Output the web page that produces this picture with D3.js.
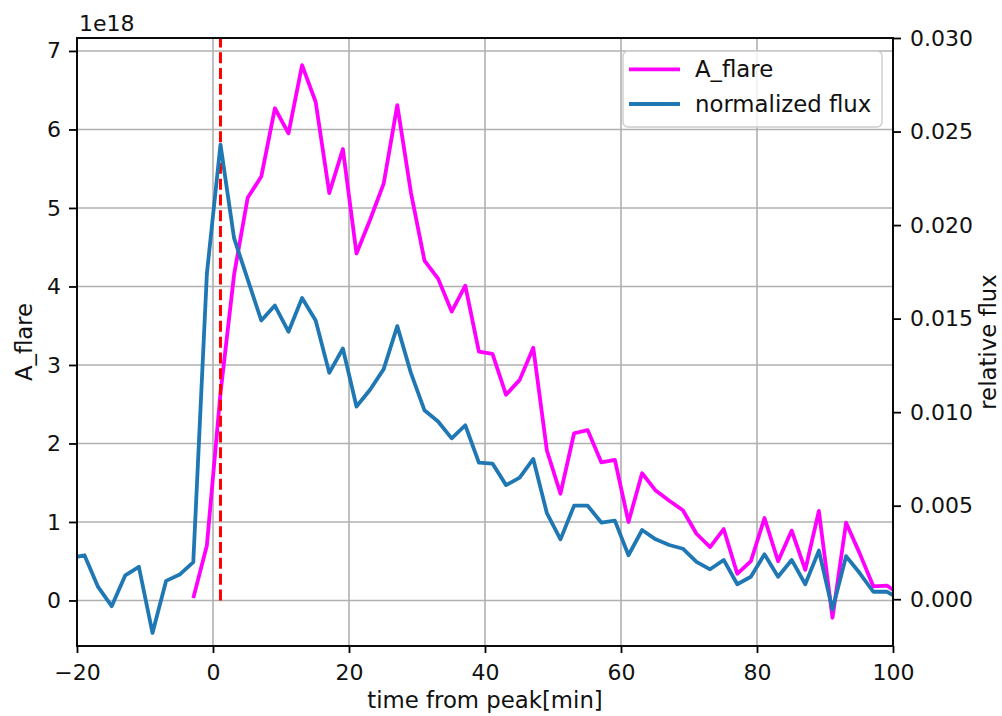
<!DOCTYPE html>
<html>
<head>
<meta charset="utf-8">
<script src="https://cdn.jsdelivr.net/npm/d3@7/dist/d3.min.js"></script>
<style>
  html, body { margin: 0; padding: 0; background: #fff; }
  svg { display: block; }
  text { font-family: "DejaVu Sans", sans-serif; fill: #111; }
</style>
</head>
<body>
<svg id="chart" width="1002" height="716"></svg>
<script>
// Sample times in minutes relative to the flare peak (2-minute cadence)
const timeMin = [
  -20.9, -18.9, -16.9, -14.9, -12.9, -10.9, -8.9, -6.9, -4.9, -2.9,
  -0.9, 1.1, 3.1, 5.1, 7.1, 9.1, 11.1, 13.1, 15.1, 17.1,
  19.1, 21.1, 23.1, 25.1, 27.1, 29.1, 31.1, 33.1, 35.1, 37.1,
  39.1, 41.1, 43.1, 45.1, 47.1, 49.1, 51.1, 53.1, 55.1, 57.1,
  59.1, 61.1, 63.1, 65.1, 67.1, 69.1, 71.1, 73.1, 75.1, 77.1,
  79.1, 81.1, 83.1, 85.1, 87.1, 89.1, 91.1, 93.1, 95.1, 97.1,
  99.1, 101.1
];

// Normalized flux (relative units), one value per entry of timeMin
const normFlux = [
  0.0022, 0.00235, 0.00066, -0.00037, 0.00128, 0.00173, -0.0018, 0.00098, 0.00132, 0.00198,
  0.0174, 0.0243, 0.0193, 0.0171, 0.0149, 0.0157, 0.0143, 0.0161, 0.0149, 0.0121,
  0.0134, 0.0103, 0.0112, 0.0123, 0.0146, 0.0121, 0.0101, 0.0095, 0.0086, 0.0093,
  0.0073, 0.00725, 0.0061, 0.0065, 0.0075, 0.0046, 0.0032, 0.0050, 0.0050, 0.0041,
  0.0042, 0.00235, 0.0037, 0.0032, 0.0029, 0.0027, 0.0020, 0.0016, 0.0021, 0.0008,
  0.0012, 0.0024, 0.0012, 0.0021, 0.0008, 0.0026, -0.00055, 0.0023, 0.0014, 0.0004,
  0.0004, 0.0000
];

// Flare area A_flare in units of 1e18, starting at t = -2.9 min
const flareTime = [
  -2.9, -0.9, 1.1, 3.1, 5.1, 7.1, 9.1, 11.1, 13.1, 15.1,
  17.1, 19.1, 21.1, 23.1, 25.1, 27.1, 29.1, 31.1, 33.1, 35.1,
  37.1, 39.1, 41.1, 43.1, 45.1, 47.1, 49.1, 51.1, 53.1, 55.1,
  57.1, 59.1, 61.1, 63.1, 65.1, 67.1, 69.1, 71.1, 73.1, 75.1,
  77.1, 79.1, 81.1, 83.1, 85.1, 87.1, 89.1, 91.1, 93.1, 95.1,
  97.1, 99.1, 101.1
];
const aFlare = [
  0.03, 0.70, 2.64, 4.15, 5.13, 5.40, 6.27, 5.95, 6.82, 6.35,
  5.19, 5.75, 4.42, 4.85, 5.31, 6.31, 5.20, 4.33, 4.10, 3.68,
  4.01, 3.17, 3.14, 2.62, 2.81, 3.22, 1.91, 1.36, 2.13, 2.17,
  1.76, 1.79, 1.00, 1.62, 1.40, 1.27, 1.15, 0.85, 0.68, 0.91,
  0.34, 0.50, 1.05, 0.50, 0.89, 0.39, 1.14, -0.22, 0.99, 0.60,
  0.18, 0.19, 0.07
];

// Time of the flux peak, marked with a dashed line
const peakTime = [1.1];

// Tick labels
const xTicks = [-20, 0, 20, 40, 60, 80, 100];
const leftTicks = [0, 1, 2, 3, 4, 5, 6, 7];
const rightTicks = [0.000, 0.005, 0.010, 0.015, 0.020, 0.025, 0.030];

const seriesNames = ["A_flare", "normalized flux"];
const seriesColors = ["#ff00ff", "#1f77b4"];

const plot = { left: 77, right: 893, top: 38, bottom: 646 };
const tickPx = 22;
const labelPx = 22.8;
const lineW = 3.8;

const svg = d3.select("#chart");

const x = d3.scaleLinear().domain([-20, 100]).range([plot.left, plot.right]);
const yL = d3.scaleLinear().domain([-0.58, 7.165]).range([plot.bottom, plot.top]);
const yR = d3.scaleLinear().domain([-0.0025, 0.030]).range([plot.bottom, plot.top]);

svg.append("defs").append("clipPath").attr("id", "plotClip")
  .append("rect")
  .attr("x", plot.left).attr("y", plot.top)
  .attr("width", plot.right - plot.left).attr("height", plot.bottom - plot.top);

// Grid
const grid = svg.append("g").attr("stroke", "#b0b0b0").attr("stroke-width", 1.6);
grid.selectAll("line.gx").data(xTicks).join("line")
  .attr("x1", d => x(d)).attr("x2", d => x(d))
  .attr("y1", plot.top).attr("y2", plot.bottom);
grid.selectAll("line.gy").data(leftTicks).join("line")
  .attr("x1", plot.left).attr("x2", plot.right)
  .attr("y1", d => yL(d)).attr("y2", d => yL(d));

const clipped = svg.append("g").attr("clip-path", "url(#plotClip)");

// A_flare curve (left axis)
const flarePts = flareTime.map((t, i) => [t, aFlare[i]]);
clipped.append("path")
  .datum(flarePts)
  .attr("fill", "none")
  .attr("stroke", seriesColors[0])
  .attr("stroke-width", lineW)
  .attr("stroke-linejoin", "round")
  .attr("d", d3.line().x(d => x(d[0])).y(d => yL(d[1])));

// Peak marker
clipped.selectAll("line.peak").data(peakTime).join("line")
  .attr("x1", d => x(d)).attr("x2", d => x(d))
  .attr("y1", yL(0)).attr("y2", plot.top)
  .attr("stroke", "#ff0000")
  .attr("stroke-width", 3)
  .attr("stroke-dasharray", "11,4.8");

// Normalized flux curve (right axis)
const fluxPts = timeMin.map((t, i) => [t, normFlux[i]]);
clipped.append("path")
  .datum(fluxPts)
  .attr("fill", "none")
  .attr("stroke", seriesColors[1])
  .attr("stroke-width", lineW)
  .attr("stroke-linejoin", "round")
  .attr("d", d3.line().x(d => x(d[0])).y(d => yR(d[1])));

// Axes
function styleAxis(g) {
  g.select(".domain").remove();
  g.selectAll(".tick line").attr("stroke", "#000").attr("stroke-width", 1.8);
  g.selectAll(".tick text").attr("font-size", tickPx).attr("fill", "#111")
    .attr("font-family", "DejaVu Sans, sans-serif");
}

svg.append("g")
  .attr("transform", `translate(0,${plot.bottom})`)
  .call(d3.axisBottom(x).tickValues(xTicks).tickSize(7).tickPadding(11)
    .tickFormat(d3.format("d")))
  .call(styleAxis);

svg.append("g")
  .attr("transform", `translate(${plot.left},0)`)
  .call(d3.axisLeft(yL).tickValues(leftTicks).tickSize(8).tickPadding(8)
    .tickFormat(d3.format("d")))
  .call(styleAxis);

svg.append("g")
  .attr("transform", `translate(${plot.right},0)`)
  .call(d3.axisRight(yR).tickValues(rightTicks).tickSize(8).tickPadding(9)
    .tickFormat(d3.format(".3f")))
  .call(styleAxis);

// Frame
svg.append("rect")
  .attr("x", plot.left).attr("y", plot.top)
  .attr("width", plot.right - plot.left).attr("height", plot.bottom - plot.top)
  .attr("fill", "none").attr("stroke", "#000").attr("stroke-width", 1.9);

// Axis labels
svg.append("text")
  .attr("x", (plot.left + plot.right) / 2).attr("y", 708)
  .attr("text-anchor", "middle").attr("font-size", labelPx)
  .text("time from peak[min]");

svg.append("text")
  .attr("transform", `translate(32,${(plot.top + plot.bottom) / 2}) rotate(-90)`)
  .attr("text-anchor", "middle").attr("font-size", labelPx)
  .text("A_flare");

svg.append("text")
  .attr("transform", `translate(995.5,${(plot.top + plot.bottom) / 2}) rotate(-90)`)
  .attr("text-anchor", "middle").attr("font-size", labelPx)
  .text("relative flux");

// Offset (scale) label for the left axis
svg.append("text")
  .attr("x", 79).attr("y", 31)
  .attr("font-size", tickPx)
  .text("1e18");

// Legend
const legend = svg.append("g");
legend.append("rect")
  .attr("x", 623).attr("y", 51).attr("width", 259).attr("height", 76)
  .attr("rx", 5).attr("ry", 5)
  .attr("fill", "#fff").attr("fill-opacity", 0.8)
  .attr("stroke", "#cccccc").attr("stroke-width", 1.4);
const legendRows = legend.selectAll("g.row").data(seriesNames).join("g")
  .attr("transform", (d, i) => `translate(0,${i * 34.7})`);
legendRows.append("line")
  .attr("x1", 629).attr("x2", 680).attr("y1", 69.3).attr("y2", 69.3)
  .attr("stroke", (d, i) => seriesColors[i]).attr("stroke-width", lineW);
legendRows.append("text")
  .attr("x", 695).attr("y", 77)
  .attr("font-size", labelPx)
  .text(d => d);
</script>
</body>
</html>
